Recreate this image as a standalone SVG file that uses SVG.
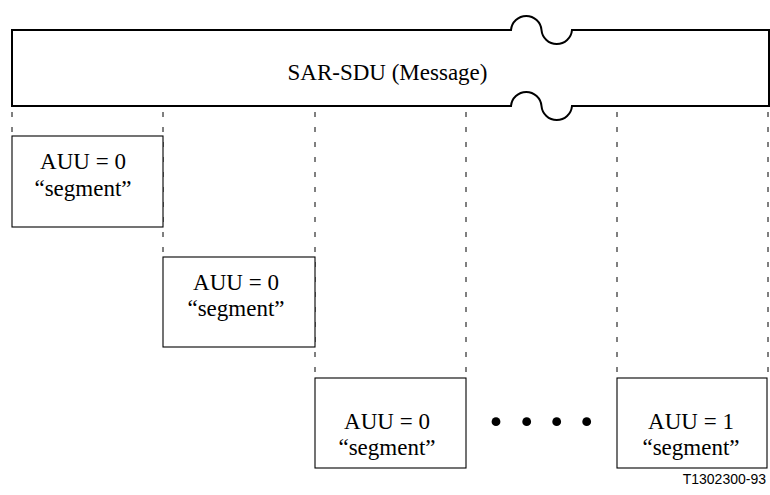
<svg xmlns="http://www.w3.org/2000/svg" width="770" height="495" viewBox="0 0 770 495">
<style>
.frame{fill:none;stroke:#000;stroke-width:2}
.box{fill:#fff;stroke:#000;stroke-width:1.1}
.dash{fill:none;stroke:#000;stroke-width:1;stroke-dasharray:5 10;stroke-dashoffset:9}
.t{font-family:"Liberation Serif","Times New Roman",serif;font-size:23px;fill:#000;text-anchor:middle}
.id{font-family:"Liberation Sans",Arial,sans-serif;font-size:14px;fill:#000;text-anchor:end}
</style>
<rect width="770" height="495" fill="#fff"/>
<g id="connectors">
<line class="dash" x1="12" y1="106" x2="12" y2="136"/>
<line class="dash" x1="163" y1="106" x2="163" y2="257"/>
<line class="dash" x1="315" y1="106" x2="315" y2="378"/>
<line class="dash" x1="466" y1="106" x2="466" y2="378"/>
<line class="dash" x1="617" y1="106" x2="617" y2="378"/>
<line class="dash" x1="768" y1="106" x2="768" y2="378"/>
</g>
<g id="sar-sdu">
<path class="frame" d="M12,30 H511 A15.3,15.3 0 0 1 541.5,30 A15.3,15.3 0 0 0 572,30 H769 V106 H572 A15.3,15.3 0 0 1 541.5,106 A15.3,15.3 0 0 0 511,106 H12 Z"/>
<text class="t" x="387.5" y="80">SAR-SDU (Message)</text>
</g>
<g id="seg1">
<rect class="box" x="12" y="136" width="151" height="91"/>
<text class="t" x="83" y="169">AUU = 0</text>
<text class="t" x="83" y="196">“segment”</text>
</g>
<g id="seg2">
<rect class="box" x="163" y="257" width="152" height="90"/>
<text class="t" x="236" y="290">AUU = 0</text>
<text class="t" x="236" y="316">“segment”</text>
</g>
<g id="seg3">
<rect class="box" x="315" y="378" width="151" height="90"/>
<text class="t" x="387" y="429">AUU = 0</text>
<text class="t" x="387" y="455">“segment”</text>
</g>
<g id="ellipsis">
<circle cx="496" cy="421.7" r="4.4"/>
<circle cx="526.7" cy="421.7" r="4.4"/>
<circle cx="556.7" cy="421.7" r="4.4"/>
<circle cx="586.7" cy="421.7" r="4.4"/>
</g>
<g id="seg4">
<rect class="box" x="617" y="378" width="150" height="90"/>
<text class="t" x="691" y="429">AUU = 1</text>
<text class="t" x="691" y="455">“segment”</text>
</g>
<text class="id" x="766" y="484">T1302300-93</text>
</svg>
